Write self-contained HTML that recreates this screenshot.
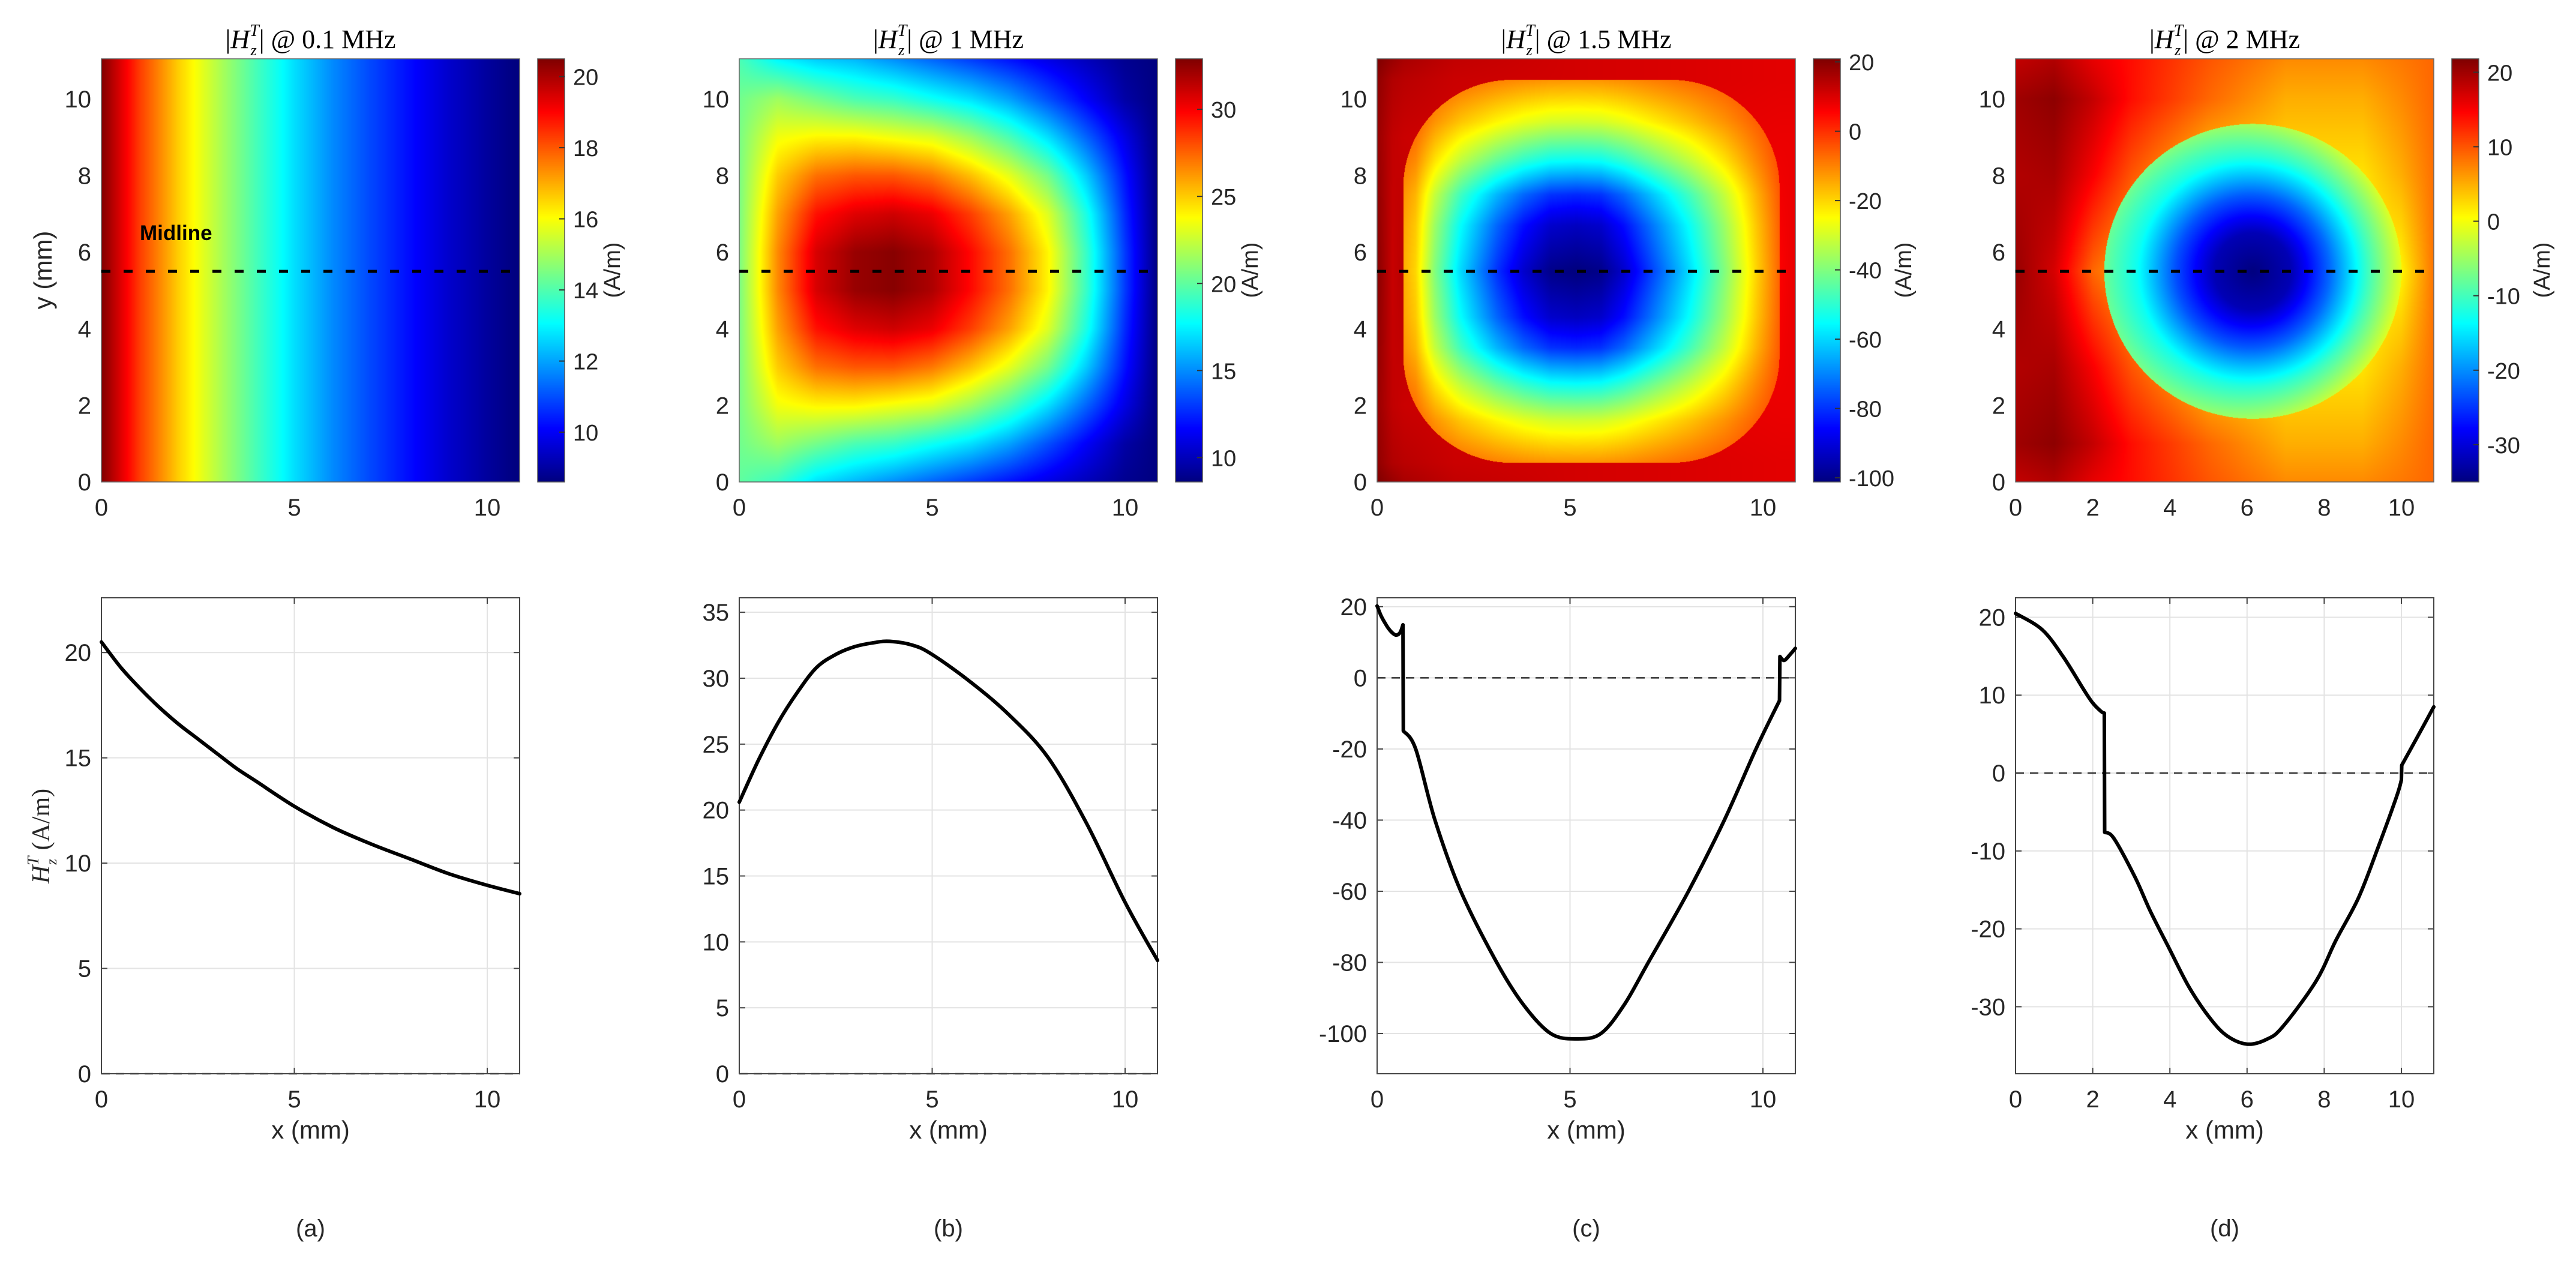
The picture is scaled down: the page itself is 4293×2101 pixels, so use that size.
<!DOCTYPE html>
<html><head><meta charset="utf-8">
<style>
html,body{margin:0;padding:0;background:#fff;}
#fig{position:relative;width:4293px;height:2101px;overflow:hidden;background:#fff;}
canvas{position:absolute;}
svg{position:absolute;left:0;top:0;}
</style></head>
<body>
<div id="fig">
<svg id="svg" width="4293" height="2101"></svg>
</div>
<script>
// ---------------- DATA ----------------
// Panel (a) 0.1 MHz : field uniform in y, profile along x
const aProfileX = [0,1,2,3,4,5,6,7,8,9,10,10.84];
const aProfileV = [20.5,18.3,16.6,15.2,13.9,12.7,11.7,10.9,10.2,9.5,8.95,8.55];
const aCLim = [8.6,20.5];
const aCbarTicks = [10,12,14,16,18,20];
const aLineX = [0,0.5,1,1.5,2,2.5,3,3.5,4,5,6,7,8,9,10,10.84];
const aLineY = [20.5,19.3,18.3,17.4,16.6,15.9,15.2,14.5,13.9,12.7,11.7,10.9,10.2,9.5,8.95,8.55];
const aYLim = [0,22.6];
const aYTicks = [0,5,10,15,20];

// Panel (b) 1 MHz : grid
const bGridX = [0,1,2,3,4,5,6,7,8,9,10,10.84];
const bGridY = [0,1,2,3,4,5,6,7,8,9,10,11.05];
const bGrid = [
 [20,19,17,16,15,14,13,12,11,10,9,8.6],
 [20.4,21.5,20.5,19.5,19,18,17,15.5,13.5,11.5,9.5,8.6],
 [20.6,23.5,24,24,23.5,23,21.5,19.5,17,14,11,8.6],
 [20.6,25,27.2,27.8,27.8,27,25.3,23.2,20.5,16.5,12,8.6],
 [20.6,26,29.5,30.6,31,30.3,28.4,26,23,18.3,12.6,8.6],
 [20.6,26.6,30.8,32.3,32.7,31.8,29.7,27.2,24,19,13,8.6],
 [20.6,26.6,30.8,32.3,32.7,31.8,29.7,27.2,24,19,13,8.6],
 [20.6,26,29.5,30.6,31,30.3,28.4,26,23,18.3,12.6,8.6],
 [20.6,25,27.2,27.8,27.8,27,25.3,23.2,20.5,16.5,12,8.6],
 [20.6,23.5,24,24,23.5,23,21.5,19.5,17,14,11,8.6],
 [20.4,21.5,20.5,19.5,19,18,17,15.5,13.5,11.5,9.5,8.6],
 [19.5,17.5,16.5,16,15,14,13,12,11,10,9,8.6]
];
const bCLim = [8.6,32.9];
const bCbarTicks = [10,15,20,25,30];
const bLineX = [0,0.5,1,1.5,2,2.5,3,3.5,3.9,4.5,5,6,7,8,9,10,10.84];
const bLineY = [20.6,23.8,26.6,28.9,30.8,31.8,32.4,32.7,32.8,32.5,31.8,29.7,27.2,24.0,19.0,13.0,8.6];
const bYLim = [0,36.1];
const bYTicks = [0,5,10,15,20,25,30,35];

// Panel (c) 1.5 MHz : outer frame grid + inner bowl profiles
const cOuterX = [0,0.4,0.7,2,5,8,10.45,10.84];
const cOuterY = [0,0.5,2,5.5,9,10.5,11.05];
const cOuterGrid = [
 [21,18,16,13,11,10,9,9],
 [19,15,14,12,11,10,9,9],
 [18,13,12,11,10,9,8,8],
 [20,12.2,14.5,10,10,9,6,8.3],
 [18,13,12,11,10,9,8,8],
 [19,15,14,12,11,10,9,9],
 [21,18,16,13,11,10,9,9]
];
const cInnerX = [0.68,1.0,1.5,2.17,3.1,3.8,4.5,5.17,5.8,6.4,7.03,8.07,9.0,9.82,10.43];
const cInnerV = [-15,-20,-40,-60,-80,-92,-100,-101.5,-100,-92,-80,-60,-40,-20,-6.4];
const cInnerYY = [0.5,1,1.6,2.55,3.5,4.3,5.5,6.7,7.5,8.4,9.4,10,10.5];
const cInnerYF = [0.12,0.2,0.3,0.54,0.8,0.92,1,0.92,0.8,0.54,0.3,0.2,0.12];
const cCLim = [-101.2,20.9];
const cCbarTicks = [-100,-80,-60,-40,-20,0,20];
const cLineX = [0,0.1,0.2,0.3,0.4,0.5,0.6,0.67,0.68,1.0,1.5,2.17,3.1,3.8,4.5,5.17,5.8,6.4,7.03,8.07,9.0,9.82,10.43,10.44,10.55,10.7,10.84];
const cLineY = [20.2,17.5,15.5,13.8,12.6,12.0,12.8,14.9,-14.9,-20,-40,-60,-80,-92,-100,-101.5,-100,-92,-80,-60,-40,-20,-6.4,6.0,4.9,6.5,8.3];
const cYLim = [-111.3,22.5];
const cYTicks = [-100,-80,-60,-40,-20,0,20];

// Panel (d) 2 MHz : outer grid + inner radial profiles
const dOuterX = [0,1,2,3,5,7,9,10,10.84];
const dOuterY = [0,1,3,5.5,8,10,11.05];
const dOuterGrid = [
 [18,19,16,14,10,7,7,8,9],
 [20,21,18,14,9,5,5,7,9],
 [19,19.5,15,10,3,2,2,5,8.5],
 [20.5,17,9,5,0,0,0,1,8.3],
 [19,19.5,15,10,3,2,2,5,8.5],
 [20,21,18,14,9,5,5,7,9],
 [18,19,16,14,10,7,7,8,9]
];
const dInnerR = [0,1,2,3,3.85];
const dInnerLeft = [-35,-32,-23.5,-13,-7.8];
const dInnerRight = [-35,-32,-22,-10,-1];
const dCLim = [-35.0,21.8];
const dCbarTicks = [-30,-20,-10,0,10,20];
const dLineX = [0,0.69,1.24,1.78,2.0,2.22,2.3,2.31,2.55,3.09,3.5,3.97,4.5,5.06,5.5,6.01,6.5,6.92,7.79,8.3,8.89,9.4,9.87,10.0,10.01,10.4,10.84];
const dLineY = [20.5,18.4,14.9,10.6,9.0,7.9,7.7,-7.6,-8.4,-13.3,-17.8,-22.4,-27.5,-31.6,-33.8,-34.8,-34.2,-32.6,-26.7,-21.5,-16,-9.5,-3.1,-0.9,1.0,4.5,8.5];
const dYLim = [-38.6,22.5];
const dYTicks = [-30,-20,-10,0,10,20];

const xTicks5 = [0,5,10];
const xTicks2 = [0,2,4,6,8,10];
const hmYTicks = [0,2,4,6,8,10];
const titles = ["0.1 MHz","1 MHz","1.5 MHz","2 MHz"];
const letters = ["(a)","(b)","(c)","(d)"];

// ---------------- LAYOUT ----------------
const LEFTS = [169,1232,2295,3359];
const PW = 697, HT = 98, HB = 803, LT = 996, LB = 1789;
const XMAX = 10.84, YMAX = 11.05;
const CB_OFF = 727, CB_W = 45;
const NS = "http://www.w3.org/2000/svg";
const svg = document.getElementById('svg');
const fig = document.getElementById('fig');

function mk(tag, attrs, parent){
  const e = document.createElementNS(NS, tag);
  for (const k in attrs) e.setAttribute(k, attrs[k]);
  (parent||svg).appendChild(e);
  return e;
}
function interp1(xs, vs, x){
  if (x <= xs[0]) return vs[0];
  const n = xs.length;
  if (x >= xs[n-1]) return vs[n-1];
  let i = 0; while (i < n-2 && x > xs[i+1]) i++;
  const t = (x - xs[i])/(xs[i+1]-xs[i]);
  return vs[i] + t*(vs[i+1]-vs[i]);
}
function interp2(xs, ys, g, x, y){
  const col = ys.map((_,j)=>interp1(xs, g[j], x));
  return interp1(ys, col, y);
}
function jet(t){
  t = Math.max(0, Math.min(1, t));
  const c = v => Math.round(255*Math.max(0, Math.min(1, v)));
  return [c(1.5-Math.abs(4*t-3)), c(1.5-Math.abs(4*t-2)), c(1.5-Math.abs(4*t-1))];
}
function inRoundRect(x,y,x0,x1,y0,y1,r){
  if (x<x0||x>x1||y<y0||y>y1) return false;
  const cx = Math.min(Math.max(x, x0+r), x1-r);
  const cy = Math.min(Math.max(y, y0+r), y1-r);
  return (x-cx)*(x-cx)+(y-cy)*(y-cy) <= r*r;
}
const fields = [
  (x,y)=>interp1(aProfileX, aProfileV, x),
  (x,y)=>interp2(bGridX, bGridY, bGrid, x, y),
  (x,y)=>{
    if (inRoundRect(x,y,0.68,10.43,0.5,10.5,2.8))
      return interp1(cInnerX, cInnerV, x) * interp1(cInnerYY, cInnerYF, y);
    return interp2(cOuterX, cOuterY, cOuterGrid, x, y);
  },
  (x,y)=>{
    const cx = 6.15, cy = 5.5, R = 3.85;
    const r = Math.hypot(x-cx, y-cy);
    if (r <= R){
      const w = r > 0 ? (1 + (x-cx)/r)/2 : 0.5;
      return (1-w)*interp1(dInnerR, dInnerLeft, r) + w*interp1(dInnerR, dInnerRight, r);
    }
    return interp2(dOuterX, dOuterY, dOuterGrid, x, y);
  }
];
const clims = [aCLim,bCLim,cCLim,dCLim];
const cbTicks = [aCbarTicks,bCbarTicks,cCbarTicks,dCbarTicks];
const lineXs = [aLineX,bLineX,cLineX,dLineX];
const lineYs = [aLineY,bLineY,cLineY,dLineY];
const yLims = [aYLim,bYLim,cYLim,dYLim];
const yTicksL = [aYTicks,bYTicks,cYTicks,dYTicks];
const FONT = "'Liberation Sans', Arial, sans-serif";
const SERIF = "'Liberation Serif', 'Times New Roman', serif";

function txt(x,y,s,size,anchor,extra){
  const t = mk('text', Object.assign({x:x,y:y,'font-family':FONT,'font-size':size,'text-anchor':anchor||'middle',fill:'#262626'}, extra||{}));
  t.textContent = s;
  return t;
}
// smooth path (Catmull-Rom) broken at vertical jumps
function smoothPath(P){
  const runs = []; let cur = [P[0]];
  for (let i=1;i<P.length;i++){
    if (Math.abs(P[i][0]-P[i-1][0]) < 4){ runs.push(cur); cur = [P[i-1], P[i]]; runs.push(cur); cur = [P[i]]; }
    else cur.push(P[i]);
  }
  runs.push(cur);
  let d = 'M' + P[0][0].toFixed(1) + ',' + P[0][1].toFixed(1);
  runs.forEach(run=>{
    if (run.length < 2) return;
    if (run.length === 2 && Math.abs(run[0][0]-run[1][0]) < 4){ d += ' L'+run[1][0].toFixed(1)+','+run[1][1].toFixed(1); return; }
    for (let i=0;i<run.length-1;i++){
      const p0 = run[Math.max(0,i-1)], p1 = run[i], p2 = run[i+1], p3 = run[Math.min(run.length-1,i+2)];
      const c1 = [p1[0]+(p2[0]-p0[0])/6, p1[1]+(p2[1]-p0[1])/6];
      const c2 = [p2[0]-(p3[0]-p1[0])/6, p2[1]-(p3[1]-p1[1])/6];
      d += ' C'+c1[0].toFixed(1)+','+c1[1].toFixed(1)+' '+c2[0].toFixed(1)+','+c2[1].toFixed(1)+' '+p2[0].toFixed(1)+','+p2[1].toFixed(1);
    }
  });
  return d;
}

for (let p=0; p<4; p++){
  const L = LEFTS[p];
  const sx = v => L + v/XMAX*PW;
  const sy = v => HB - v/YMAX*(HB-HT);
  const lim = clims[p];
  const cnorm = v => (v - lim[0])/(lim[1]-lim[0]);

  const cv = document.createElement('canvas');
  cv.width = PW; cv.height = HB-HT;
  cv.style.left = L+'px'; cv.style.top = HT+'px';
  
  
  fig.insertBefore(cv, svg);
  const ctx = cv.getContext('2d');
  const img = ctx.createImageData(cv.width, cv.height);
  for (let j=0; j<cv.height; j++){
    const y = YMAX*(1 - (j+0.5)/cv.height);
    for (let i=0; i<cv.width; i++){
      const x = XMAX*(i+0.5)/cv.width;
      const c = jet(cnorm(fields[p](x,y)));
      const k = 4*(j*cv.width+i);
      img.data[k]=c[0]; img.data[k+1]=c[1]; img.data[k+2]=c[2]; img.data[k+3]=255;
    }
  }
  ctx.putImageData(img,0,0);

  const cb = document.createElement('canvas');
  cb.width = CB_W; cb.height = HB-HT;
  cb.style.left = (L+CB_OFF)+'px'; cb.style.top = HT+'px';
  
  
  fig.insertBefore(cb, svg);
  const cctx = cb.getContext('2d');
  for (let j=0;j<cb.height;j++){
    const c = jet(1 - (j+0.5)/cb.height);
    cctx.fillStyle = 'rgb('+c[0]+','+c[1]+','+c[2]+')';
    cctx.fillRect(0,j,CB_W,1);
  }
  const cbs = v => HB - cnorm(v)*(HB-HT);
  mk('rect',{x:L+CB_OFF,y:HT,width:CB_W,height:HB-HT,fill:'none',stroke:'#555','stroke-width':1.5});
  cbTicks[p].forEach(v=>{
    const yy = cbs(v);
    mk('line',{x1:L+CB_OFF+CB_W-9,x2:L+CB_OFF+CB_W,y1:yy,y2:yy,stroke:'#333','stroke-width':2});
    const t = txt(L+CB_OFF+CB_W+14, yy+14, String(v), 38, 'start');
    
    
  });
  const cbl = txt(0,0,'(A/m)',38,'middle',{transform:'translate('+(L+CB_OFF+CB_W+(p>=2?118:92))+',450) rotate(-90)'});
  
  

  mk('rect',{x:L,y:HT,width:PW,height:HB-HT,fill:'none',stroke:'#666','stroke-width':1.5});
  const xt = p===3 ? xTicks2 : xTicks5;
  xt.forEach(v=>{
    const t = txt(sx(v), HB+56, String(v), 40);
    
    
  });
  hmYTicks.forEach(v=>{
    const t = txt(L-17, sy(v)+14, String(v), 40, 'end');
    
    
  });
  const ml = mk('line',{x1:L,x2:L+PW,y1:sy(5.5),y2:sy(5.5),stroke:'#000','stroke-width':5,'stroke-dasharray':'15 22'});
  
  

  const tt = mk('text',{x:L+PW/2,y:80,'font-family':SERIF,'font-size':44,'text-anchor':'middle',fill:'#000'});
  
  
  tt.innerHTML = '|<tspan font-style="italic">H</tspan><tspan font-size="28" font-style="italic" dy="-20">T</tspan><tspan font-size="26" font-style="italic" dx="-14" dy="32">z</tspan><tspan dx="4" dy="-12">| @ '+titles[p]+'</tspan>';

  const ylim = yLims[p];
  const ly = v => LB - (v - ylim[0])/(ylim[1]-ylim[0])*(LB-LT);
  yTicksL[p].forEach(v=>{
    const g = mk('line',{x1:L,x2:L+PW,y1:ly(v),y2:ly(v),stroke:'#e3e3e3','stroke-width':2});
    
    
    mk('line',{x1:L,x2:L+10,y1:ly(v),y2:ly(v),stroke:'#444','stroke-width':2});
    mk('line',{x1:L+PW-10,x2:L+PW,y1:ly(v),y2:ly(v),stroke:'#444','stroke-width':2});
    const t = txt(L-17, ly(v)+14, String(v), 40, 'end');
    
    
  });
  xt.forEach(v=>{
    const g = mk('line',{x1:sx(v),x2:sx(v),y1:LT,y2:LB,stroke:'#e3e3e3','stroke-width':2});
    
    
    mk('line',{x1:sx(v),x2:sx(v),y1:LB-10,y2:LB,stroke:'#444','stroke-width':2});
    mk('line',{x1:sx(v),x2:sx(v),y1:LT,y2:LT+10,stroke:'#444','stroke-width':2});
    const t = txt(sx(v), LB+56, String(v), 40);
    
    
  });
  const zl = mk('line',{x1:L,x2:L+PW,y1:ly(0),y2:ly(0),stroke:'#333','stroke-width':2.5,'stroke-dasharray':'14 10'});
  
  
  mk('rect',{x:L,y:LT,width:PW,height:LB-LT,fill:'none',stroke:'#444','stroke-width':2});
  const P = lineXs[p].map((x,i)=>[sx(x), ly(lineYs[p][i])]);
  const pl = mk('path',{d:smoothPath(P),fill:'none',stroke:'#000','stroke-width':6,'stroke-linejoin':'round','stroke-linecap':'round'});
  
  
  const xl = txt(L+PW/2, LB+108, 'x (mm)', 42);
  
  
  const lt = txt(L+PW/2, 2060, letters[p], 40);
  
  
}
const mlab = txt(233, 400, 'Midline', 35, 'start', {'font-weight':'bold',fill:'#000'});


const yl = txt(0,0,'y (mm)',42,'middle',{transform:'translate(86,450) rotate(-90)'});


const yl2 = mk('text',{transform:'translate(82,1393) rotate(-90)','font-family':SERIF,'font-size':42,'text-anchor':'middle',fill:'#262626'});


yl2.innerHTML = '<tspan font-style="italic">H</tspan><tspan font-size="27" font-style="italic" dy="-18">T</tspan><tspan font-size="25" font-style="italic" dx="-14" dy="30">z</tspan><tspan dx="4" dy="-12"> (A/m)</tspan>';
</script>
</body></html>
